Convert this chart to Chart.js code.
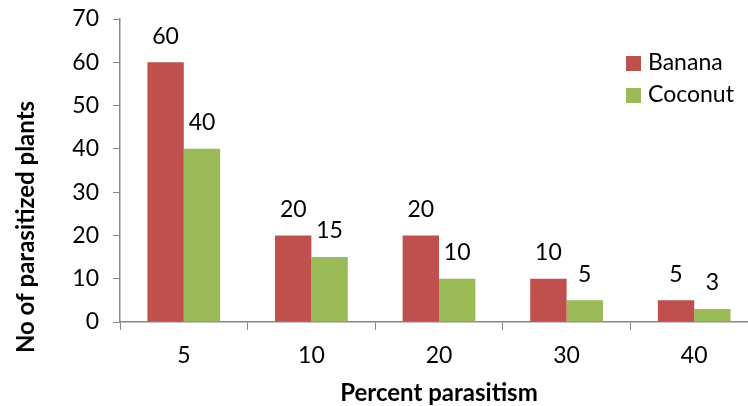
<!DOCTYPE html>
<html>
<head>
<meta charset="utf-8">
<script src="https://cdn.jsdelivr.net/npm/chart.js@4"></script>
<style>
    html, body { margin: 0; padding: 0; background: #fff; overflow: hidden; }
    #wrap { position: relative; width: 760px; height: 406px; }
</style>
</head>
<body>
<div id="wrap"><canvas id="parasiteChart"></canvas></div>
<script>
const categories = ['5', '10', '20', '30', '40'];
const bananaValues = [60, 20, 20, 10, 5];
const coconutValues = [40, 15, 10, 5, 3];
const yTicks = [0, 10, 20, 30, 40, 50, 60, 70];

const FONT = 'Lato, "Open Sans", sans-serif';
const AXIS_GREY = '#878787';

// values above each bar
const valueLabels = {
    id: 'valueLabels',
    afterDatasetsDraw(chart) {
        const ctx = chart.ctx;
        ctx.save();
        ctx.font = '23px ' + FONT;
        ctx.fillStyle = '#000';
        ctx.textAlign = 'center';
        ctx.textBaseline = 'middle';
        chart.data.datasets.forEach((ds, i) => {
            chart.getDatasetMeta(i).data.forEach((bar, j) => {
                ctx.fillText(ds.data[j], bar.x, bar.y - 26);
            });
        });
        ctx.restore();
    }
};

// legend inside the plot, top right
const insideLegend = {
    id: 'insideLegend',
    afterDraw(chart) {
        const ctx = chart.ctx;
        ctx.save();
        ctx.font = '23px ' + FONT;
        ctx.textBaseline = 'middle';
        chart.data.datasets.forEach((ds, i) => {
            const y = 63 + i * 32;
            ctx.fillStyle = ds.backgroundColor;
            ctx.fillRect(626, y - 7, 15, 15);
            ctx.fillStyle = '#000';
            ctx.fillText(ds.label, 648, y);
        });
        ctx.restore();
    }
};

// axis titles placed like the original
const axisTitles = {
    id: 'axisTitles',
    afterDraw(chart) {
        const ctx = chart.ctx;
        const x = chart.scales.x;
        ctx.save();
        ctx.font = 'bold 24px ' + FONT;
        ctx.fillStyle = '#000';
        ctx.textAlign = 'center';
        ctx.textBaseline = 'middle';
        ctx.fillText('Percent parasitism', (x.left + x.right) / 2, 393);
        ctx.translate(26, 227);
        ctx.rotate(-Math.PI / 2);
        ctx.fillText('No of parasitized plants', 0, 0);
        ctx.restore();
    }
};

new Chart(document.getElementById('parasiteChart'), {
    type: 'bar',
    data: {
        labels: categories,
        datasets: [
            {
                label: 'Banana',
                data: bananaValues,
                backgroundColor: '#C0504D',
                barPercentage: 1.0,
                categoryPercentage: 0.57
            },
            {
                label: 'Coconut',
                data: coconutValues,
                backgroundColor: '#9BBB59',
                barPercentage: 1.0,
                categoryPercentage: 0.57
            }
        ]
    },
    options: {
        responsive: true,
        maintainAspectRatio: false,
        animation: false,
        layout: { padding: { top: 19, right: 2, left: 0, bottom: 0 } },
        plugins: {
            legend: { display: false },
            tooltip: { enabled: false }
        },
        scales: {
            y: {
                min: 0,
                max: 70,
                afterBuildTicks: (scale) => {
                    scale.ticks = yTicks.map(v => ({ value: v }));
                },
                afterFit: (scale) => {
                    scale.width = 120;
                    scale.paddingTop = 0;
                    scale.paddingBottom = 0;
                },
                ticks: {
                    color: '#000',
                    font: { family: FONT, size: 23 },
                    padding: 14
                },
                grid: {
                    drawOnChartArea: false,
                    drawTicks: true,
                    tickLength: 7,
                    color: AXIS_GREY
                },
                border: { color: AXIS_GREY, width: 1.5 }
            },
            x: {
                afterFit: (scale) => { scale.height = 84; },
                ticks: {
                    color: '#000',
                    font: { family: FONT, size: 23 },
                    padding: 12
                },
                grid: {
                    offset: true,
                    drawOnChartArea: false,
                    drawTicks: true,
                    tickLength: 8,
                    color: AXIS_GREY
                },
                border: { color: AXIS_GREY, width: 1.5 }
            }
        }
    },
    plugins: [valueLabels, insideLegend, axisTitles]
});
</script>
</body>
</html>
